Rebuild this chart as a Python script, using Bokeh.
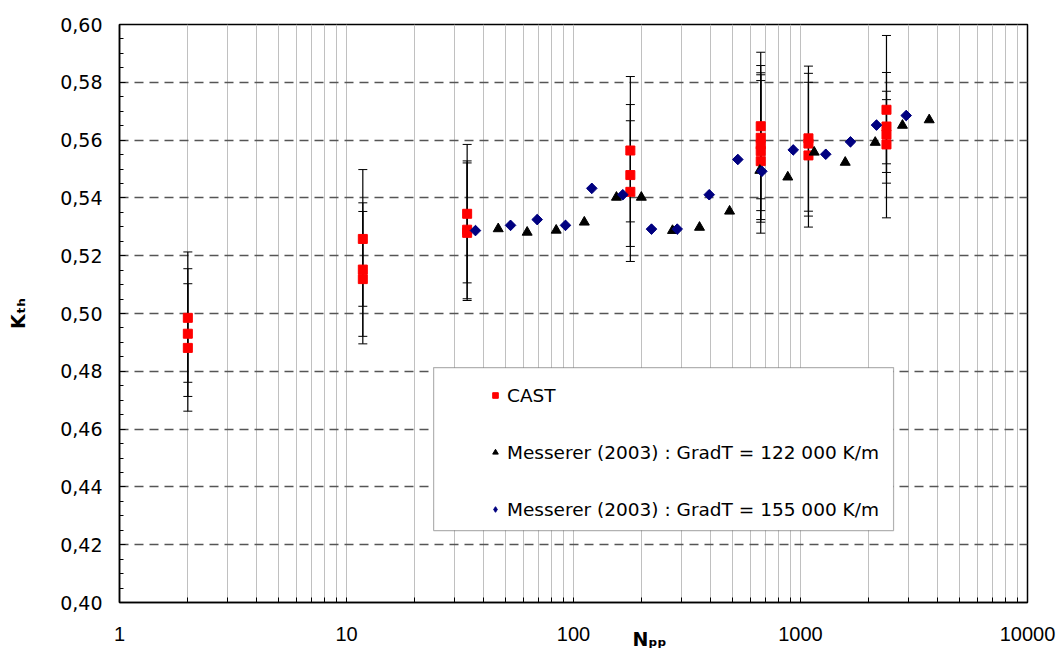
import numpy as np
from bokeh.plotting import figure
from bokeh.models import (FixedTicker, CustomJSTickFormatter, ColumnDataSource, Whisker,
                          TeeHead, Legend, LegendItem, BoxAnnotation, Range1d)
from bokeh.embed import file_html
from bokeh.resources import INLINE

# ---------------- data ----------------
cast_n = [2, 2, 2,
          11.8, 11.8, 11.8,
          34, 34, 34,
          178, 178, 178,
          668, 668, 668, 668, 668,
          1084, 1084, 1084,
          2392, 2392, 2392, 2392]
cast_k = [0.4985, 0.4930, 0.4881,
          0.5258, 0.5152, 0.5119,
          0.5345, 0.5290, 0.5279,
          0.5564, 0.5479, 0.5421,
          0.5648, 0.5608, 0.5585, 0.5562, 0.5527,
          0.5606, 0.5588, 0.5547,
          0.5705, 0.5647, 0.5619, 0.5585]
cast_hi = [0.5213, 0.5155, 0.5103,
           0.5498, 0.5383, 0.5353,
           0.5585, 0.5528, 0.5521,
           0.5820, 0.5723, 0.5667,
           0.5904, 0.5858, 0.5833, 0.5826, 0.5806,
           0.5856, 0.5831, 0.5800,
           0.5962, 0.5834, 0.5769, 0.5740]
cast_lo = [0.4762, 0.4713, 0.4662,
           0.5025, 0.4921, 0.4895,
           0.5106, 0.5051, 0.5045,
           0.5317, 0.5232, 0.5180,
           0.5397, 0.5356, 0.5325, 0.5316, 0.5278,
           0.5354, 0.5337, 0.5299,
           0.5518, 0.5488, 0.5451, 0.5331]

mess122_n = [46.6, 62.5, 83.9, 111.6, 154.6, 199, 273, 359, 487,
             662, 879, 1149, 1574, 2134, 2813, 3690]
mess122_k = [0.5293, 0.5281, 0.5288, 0.5316, 0.5402, 0.5402, 0.5287, 0.5298, 0.5354,
             0.5495, 0.5472, 0.5558, 0.5523, 0.5592, 0.5651, 0.5670]

mess155_n = [37.0, 52.8, 69.2, 92.2, 120.4, 164.9, 220.6, 286.4, 396.2,
             529.5, 675.6, 928.9, 1292, 1660, 2162, 2922]
mess155_k = [0.5287, 0.5305, 0.5325, 0.5305, 0.5433, 0.5411, 0.5292, 0.5292, 0.5411,
             0.5533, 0.5492, 0.5566, 0.5551, 0.5594, 0.5652, 0.5685]

series_labels = ["CAST",
                 "Messerer (2003) : GradT = 122 000 K/m",
                 "Messerer (2003) : GradT = 155 000 K/m"]

x_title = "N\u209a\u209a"      # N_pp
y_title = "K\u209c\u2095"      # K_th

x_ticks = [1, 10, 100, 1000, 10000]
y_ticks = [0.40, 0.42, 0.44, 0.46, 0.48, 0.50, 0.52, 0.54, 0.56, 0.58, 0.60]

# ---------------- figure ----------------
p = figure(width=1063, height=655, x_axis_type="log",
           x_range=Range1d(1, 10000), y_range=Range1d(0.40, 0.60),
           output_backend="svg", toolbar_location=None,
           min_border_left=119, min_border_right=36,
           min_border_top=24, min_border_bottom=53)
p.background_fill_color = "white"
p.border_fill_color = "white"
p.outline_line_color = "black"
p.outline_line_width = 1.5

x_minor = [m * d for d in [1, 10, 100, 1000] for m in range(2, 10)]
p.xaxis.ticker = FixedTicker(ticks=x_ticks, minor_ticks=x_minor)
p.xaxis.formatter = CustomJSTickFormatter(code="return tick.toFixed(0);")
p.yaxis.ticker = FixedTicker(ticks=y_ticks,
                             minor_ticks=[round(0.40 + 0.005 * i, 3) for i in range(41)])
p.yaxis.formatter = CustomJSTickFormatter(code="return tick.toFixed(2).replace('.', ',');")

for ax in (p.xaxis, p.yaxis):
    ax.axis_line_color = "black"
    ax.axis_line_width = 1.5
    ax.major_tick_out = 0
    ax.minor_tick_out = 0
    ax.major_tick_line_color = "black"
    ax.minor_tick_line_color = "black"
    ax.axis_label_text_font = "DejaVu Sans"
    ax.axis_label_text_font_style = "bold"
    ax.axis_label_text_font_size = "19px"
    ax.axis_label_text_color = "black"

p.xaxis.major_tick_in = 5
p.xaxis.minor_tick_in = 5
p.yaxis.major_tick_in = 6
p.yaxis.minor_tick_in = 4

p.xaxis.major_label_text_font = "Liberation Sans"
p.xaxis.major_label_text_font_size = "20px"
p.xaxis.major_label_text_color = "black"
p.xaxis.major_label_standoff = 24
p.yaxis.major_label_text_font = "DejaVu Sans"
p.yaxis.major_label_text_font_size = "19px"
p.yaxis.major_label_text_color = "black"
p.yaxis.major_label_standoff = 17

# axis titles (x title shares the tick-label row, right of centre)
p.xaxis.axis_label = "\u00a0" * 23 + x_title
p.xaxis.axis_label_standoff = -16
p.yaxis.axis_label = y_title
p.yaxis.axis_label_standoff = 28

p.xgrid.grid_line_color = "#c0c0c0"
p.xgrid.grid_line_width = 1
p.xgrid.minor_grid_line_color = "#c0c0c0"
p.xgrid.minor_grid_line_width = 1
p.ygrid.grid_line_color = "#555555"
p.ygrid.grid_line_width = 1.5
p.ygrid.grid_line_dash = "9 6"

# ---------------- glyphs ----------------
cast_src = ColumnDataSource(dict(n=cast_n, k=cast_k, hi=cast_hi, lo=cast_lo))
whisk = Whisker(base="n", upper="hi", lower="lo", source=cast_src, dimension="height",
                line_color="black", line_width=1.2,
                upper_head=TeeHead(size=9, line_color="black", line_width=1),
                lower_head=TeeHead(size=9, line_color="black", line_width=1))
p.add_layout(whisk)

r_cast = p.scatter("n", "k", source=cast_src, marker="square", size=9,
                   fill_color="#ff0000", line_color="#ff0000")
r_122 = p.scatter(mess122_n, mess122_k, marker="triangle", size=10,
                  fill_color="black", line_color="black")
# diamond glyph used for the legend key (hidden under the rotated squares below)
r_155_key = p.scatter(mess155_n, mess155_k, marker="diamond", size=9.5,
                      fill_color="#000080", line_color="#000080")
r_155 = p.scatter(mess155_n, mess155_k, marker="square", angle=np.pi / 4, size=7.5,
                  fill_color="#000080", line_color="#000080")

# legend box
box = BoxAnnotation(left=24.2, right=2570, bottom=0.4249, top=0.4813,
                    fill_color="white", fill_alpha=1.0,
                    line_color="black", line_width=1.2)
p.add_layout(box)

legend = Legend(items=[LegendItem(label=series_labels[0], renderers=[r_cast]),
                       LegendItem(label=series_labels[1], renderers=[r_122]),
                       LegendItem(label=series_labels[2], renderers=[r_155_key])],
                location=(359, 72), orientation="vertical",
                padding=10, spacing=35, glyph_width=14, glyph_height=22,
                label_height=22, label_standoff=5,
                label_text_font="DejaVu Sans", label_text_font_size="18.5px",
                label_text_color="black",
                border_line_alpha=0, background_fill_alpha=0)
p.add_layout(legend)

open("out.html", "w").write(file_html(p, INLINE))
